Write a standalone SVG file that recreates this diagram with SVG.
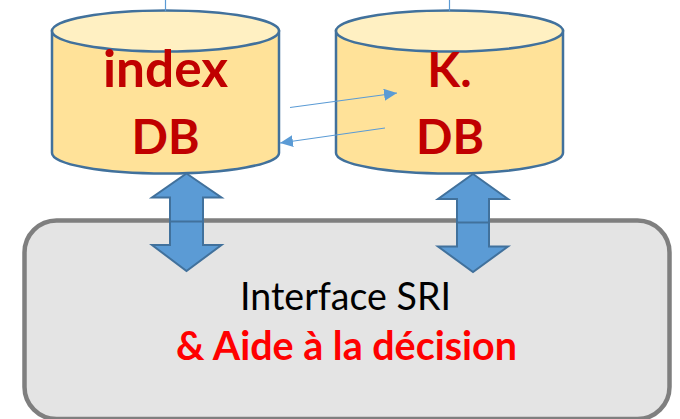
<svg xmlns="http://www.w3.org/2000/svg" width="680" height="419" viewBox="0 0 680 419">
<style>
.body{fill:#ffe299;stroke:#41719c;stroke-width:2.5}
.lid{fill:#fff0c2;stroke:#41719c;stroke-width:2.5}
.dbt{font-family:"Lato","Open Sans",sans-serif;font-weight:700;font-size:48px;fill:#c00000;text-anchor:middle}
.thin{fill:none;stroke:#5b9bd5;stroke-width:1.2}
.dbl{fill:#5b9bd5;stroke:#41719c;stroke-width:2}
</style>
<defs><marker id="ah" markerUnits="userSpaceOnUse" markerWidth="14" markerHeight="12" refX="13" refY="6" orient="auto"><path d="M0 0L13 6L0 12Z" fill="#5b9bd5"/></marker></defs>
<g id="interface">
<rect x="24.5" y="220.500" width="645" height="198.500" rx="32" fill="#e4e4e4" stroke="#7f7f7f" stroke-width="4.500"/>
<text x="345.500" y="309.500" text-anchor="middle" font-family="Lato,'Open Sans',sans-serif" font-size="38" fill="#000" textLength="211" lengthAdjust="spacingAndGlyphs">Interface SRI</text>
<text x="346.500" y="359.500" text-anchor="middle" font-family="Lato,'Open Sans',sans-serif" font-weight="700" font-size="39.500" fill="#f00" textLength="341" lengthAdjust="spacingAndGlyphs">&amp; Aide à la décision</text>
</g>
<g id="index-db">
<path class="body" d="M52 31V153A113.500 20.500 0 0 0 279 153V31Z"/>
<ellipse class="lid" cx="165.500" cy="31" rx="113.500" ry="20.500"/>
<text class="dbt" x="165.500" y="87" style="font-size:51px" textLength="125" lengthAdjust="spacingAndGlyphs">index</text>
<text class="dbt" x="165.500" y="154">DB</text>
</g>
<g id="k-db">
<path class="body" d="M336 31V153A113.500 20.500 0 0 0 563 153V31Z"/>
<ellipse class="lid" cx="449.500" cy="31" rx="113.500" ry="20.500"/>
<text class="dbt" x="449.500" y="87">K.</text>
<text class="dbt" x="450" y="154">DB</text>
</g>
<g id="connectors">
<path class="thin" d="M165.500 0V11M449.500 0V11"/>
<path class="thin" d="M290 107.500L397 93" marker-end="url(#ah)"/>
<path class="thin" d="M385 128L280 143" marker-end="url(#ah)"/>
<path class="dbl" d="M186.500 173.500L221.500 197.500H203V245H221.500L186.500 271L152 245H170V197.500H152Z"/>
<path d="M170 221.500H203" fill="none" stroke="#41719c" stroke-width="2"/>
<path class="dbl" d="M473 174L508 199H489V246.500H508L473 272L438 246.500H457V199H438Z"/>
<path d="M457 222.500H489" fill="none" stroke="#41719c" stroke-width="2"/>
</g>
</svg>
